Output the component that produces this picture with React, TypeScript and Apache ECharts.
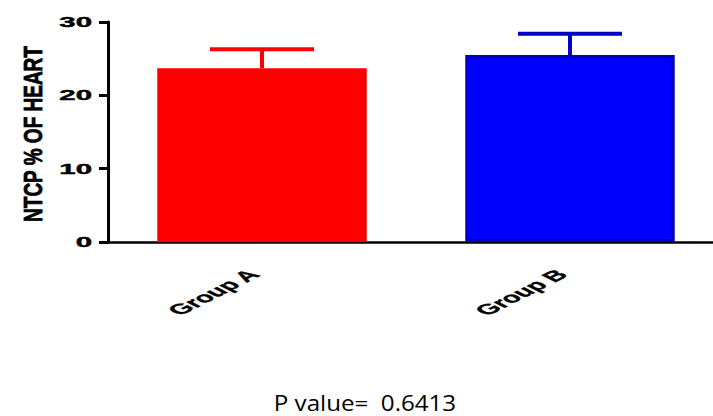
import React, { useEffect, useRef } from "react";
import * as echarts from "echarts";

const categories = ["Group A", "Group B"];
const means = [23.7, 25.5];
const upperErrors = [26.3, 28.4];
const barColors = ["#ff0000", "#0000ff"];
const borderColors = ["#ff0000", "#0000b4"];
const errorColors = ["#ff0000", "#0000c8"];
const yTicks = [0, 10, 20, 30];
const yTitle = "NTCP % OF HEART";
const pValueText = "P value=  0.6413";

const labelFont = "Liberation Sans, Arial, sans-serif";

export default function App() {
  const ref = useRef<HTMLDivElement>(null);
  useEffect(() => {
    if (!ref.current) return;
    const chart = echarts.init(ref.current, null, { renderer: "svg" });
    chart.setOption({
      animation: false,
      grid: {
        left: 108,
        width: 616,
        top: 22,
        height: 220,
        containLabel: false,
        outerBoundsMode: "none",
      },
      xAxis: {
        type: "category",
        data: categories,
        axisLine: { lineStyle: { color: "#000", width: 2.5 } },
        axisTick: { alignWithLabel: true, length: 8, lineStyle: { color: "#000", width: 3 } },
        axisLabel: { show: false },
      },
      yAxis: {
        type: "value",
        min: 0,
        max: 30,
        interval: 10,
        axisLine: { show: true, lineStyle: { color: "#000", width: 3 } },
        axisTick: { show: true, length: 9, lineStyle: { color: "#000", width: 3 } },
        splitLine: { show: false },
        axisLabel: { show: false },
      },
      series: [
        {
          type: "bar",
          barWidth: "68%",
          data: means.map((v, i) => ({
            value: v,
            itemStyle: { color: barColors[i], borderColor: borderColors[i], borderWidth: 3 },
          })),
          z: 2,
        },
        {
          type: "custom",
          z: 3,
          data: means.map((v, i) => [i, v, upperErrors[i]]),
          renderItem: (params: any, api: any) => {
            const i = api.value(0);
            const base = api.coord([i, api.value(1)]);
            const top = api.coord([i, api.value(2)]);
            const half = 52;
            const color = errorColors[i];
            return {
              type: "group",
              children: [
                {
                  type: "line",
                  shape: { x1: base[0], y1: base[1], x2: top[0], y2: top[1] },
                  style: { stroke: color, lineWidth: 4 },
                },
                {
                  type: "line",
                  shape: { x1: top[0] - half, y1: top[1], x2: top[0] + half, y2: top[1] },
                  style: { stroke: color, lineWidth: 4 },
                },
              ],
            };
          },
        },
        {
          // y-axis tick labels (wide, heavy style of the original)
          type: "custom",
          z: 4,
          clip: false,
          data: yTicks.map((v) => [0, v]),
          renderItem: (params: any, api: any) => {
            const p = api.coord([0, api.value(1)]);
            return {
              type: "text",
              x: params.coordSys.x - 16,
              y: p[1],
              scaleX: 2.1,
              style: {
                text: String(api.value(1)),
                align: "right",
                verticalAlign: "middle",
                fill: "#000",
                stroke: "#000",
                lineWidth: 0.4,
                fontSize: 14,
                fontWeight: "bold",
                fontFamily: labelFont,
              },
            };
          },
        },
        {
          // x-axis category labels, rotated and stretched like the original
          type: "custom",
          z: 4,
          clip: false,
          data: categories.map((c, i) => [i, 0]),
          renderItem: (params: any, api: any) => {
            const i = api.value(0);
            const p = api.coord([i, 0]);
            return {
              type: "group",
              x: p[0] - 8,
              y: p[1] + 30,
              scaleX: 2,
              children: [
                {
                  type: "text",
                  rotation: Math.PI / 4,
                  style: {
                    text: categories[i],
                    align: "right",
                    verticalAlign: "middle",
                    fill: "#000",
                    stroke: "#000",
                    lineWidth: 0.3,
                    fontSize: 14.5,
                    fontWeight: "bold",
                    fontFamily: labelFont,
                  },
                },
              ],
            };
          },
        },
      ],
      graphic: [
        {
          type: "text",
          x: 34,
          y: 134,
          rotation: Math.PI / 2,
          scaleX: 0.76,
          style: {
            text: yTitle,
            align: "center",
            verticalAlign: "middle",
            fill: "#000",
            stroke: "#000",
            lineWidth: 0.8,
            fontSize: 25,
            fontWeight: "bold",
            fontFamily: labelFont,
          },
        },
        {
          type: "text",
          x: 365,
          y: 403,
          scaleX: 1.15,
          style: {
            text: pValueText,
            align: "center",
            verticalAlign: "middle",
            lineHeight: 18,
            fill: "#000",
            fontSize: 21,
            fontFamily: "Open Sans, Noto Sans, sans-serif",
          },
        },
      ],
    });
    return () => chart.dispose();
  }, []);
  return (
    <div
      ref={ref}
      style={{ position: "fixed", left: 0, top: 0, width: 713, height: 416, background: "#fff" }}
    />
  );
}
